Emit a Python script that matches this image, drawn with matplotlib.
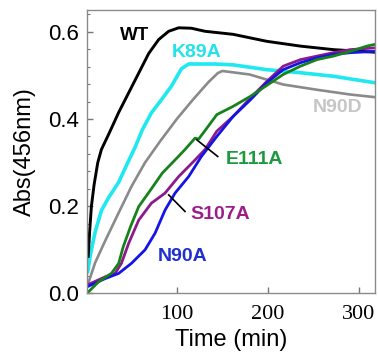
import matplotlib
matplotlib.use('Agg')
import matplotlib.pyplot as plt

# time (min) / absorbance at 456 nm
wt_t = [2.5, 4, 6, 9, 13, 17, 25, 36, 47, 58, 69, 80, 91, 102, 116, 131, 162, 199, 236, 272, 318]
wt_a = [0.085, 0.14, 0.2, 0.25, 0.3, 0.33, 0.365, 0.415, 0.46, 0.505, 0.55, 0.582, 0.601, 0.609,
        0.608, 0.601, 0.594, 0.578, 0.567, 0.559, 0.553]

k89a_t = [2, 5, 10, 17, 25, 36, 46, 54, 62, 72, 83, 94, 105, 113, 142, 162, 199, 236, 272, 318]
k89a_a = [0.05, 0.09, 0.14, 0.19, 0.22, 0.255, 0.30, 0.335, 0.375, 0.414, 0.444, 0.475, 0.515,
          0.526, 0.526, 0.524, 0.513, 0.506, 0.498, 0.483]

n90d_t = [2, 10, 21, 36, 50, 65, 82, 100, 118, 135, 145, 150, 180, 217, 254, 291, 318]
n90d_a = [0.02, 0.07, 0.12, 0.185, 0.245, 0.30, 0.35, 0.40, 0.445, 0.485, 0.505, 0.51, 0.502,
          0.479, 0.467, 0.456, 0.45]

e111a_t = [1, 14, 28, 36, 41, 49, 58, 71, 84, 98, 109, 120, 124, 133, 144, 162, 181, 199, 217,
           236, 254, 272, 291, 309, 318]
e111a_a = [0.0, 0.027, 0.046, 0.069, 0.107, 0.153, 0.199, 0.237, 0.276, 0.306, 0.33, 0.356, 0.354,
           0.379, 0.41, 0.429, 0.452, 0.477, 0.502, 0.521, 0.536, 0.544, 0.555, 0.567, 0.571]

s107a_t = [1, 21, 32, 39, 47, 58, 72, 87, 102, 120, 131, 144, 162, 181, 199, 217, 236, 254, 272,
           291, 318]
s107a_a = [0.019, 0.038, 0.046, 0.069, 0.115, 0.168, 0.207, 0.23, 0.268, 0.306, 0.33, 0.372, 0.406,
           0.448, 0.486, 0.521, 0.536, 0.544, 0.552, 0.559, 0.563]

n90a_t = [1, 21, 36, 50, 65, 76, 87, 98, 113, 127, 144, 162, 181, 199, 217, 236, 254, 272, 291, 318]
n90a_a = [0.015, 0.034, 0.046, 0.069, 0.1, 0.138, 0.191, 0.23, 0.268, 0.314, 0.36, 0.406, 0.444,
          0.483, 0.513, 0.529, 0.54, 0.548, 0.552, 0.555]

sans = 'Liberation Sans'
serif = 'Liberation Serif'

fig = plt.figure(figsize=(3.78, 3.54), dpi=100)
ax = fig.add_axes([0.231, 0.171, 0.761, 0.801])

ax.plot(n90d_t, n90d_a, color='#8a8a8a', lw=1.9)
ax.plot(k89a_t, k89a_a, color='#1fe8f0', lw=2.6)
ax.plot(wt_t, wt_a, color='black', lw=2.1)
ax.plot(s107a_t, s107a_a, color='#8b1a8b', lw=2.0)
ax.plot(n90a_t, n90a_a, color='#1414e6', lw=2.0)
ax.plot(e111a_t, e111a_a, color='#17821a', lw=2.0)

# curve labels
ax.text(53, 0.591, 'WT', color='black', fontsize=13.5, fontweight='bold', family=sans,
        ha='center', va='center')
ax.text(122, 0.553, 'K89A', color='#22e3ea', fontsize=14, fontweight='bold', family=sans,
        ha='center', va='center')
ax.text(277, 0.427, 'N90D', color='#c6c6c6', fontsize=14, fontweight='bold', family=sans,
        ha='center', va='center')
ax.text(185, 0.308, 'E111A', color='#1e9a3e', fontsize=14, fontweight='bold', family=sans,
        ha='center', va='center')
ax.text(148, 0.180, 'S107A', color='#9a1f8c', fontsize=14, fontweight='bold', family=sans,
        ha='center', va='center')
ax.text(106, 0.085, 'N90A', color='#1f2fd0', fontsize=14, fontweight='bold', family=sans,
        ha='center', va='center')
ax.plot([122, 145], [0.352, 0.314], color='black', lw=1.2)
ax.plot([91, 109], [0.226, 0.188], color='black', lw=1.2)

ax.set_xlim(1.5, 318)
ax.set_ylim(0, 0.65)
ax.set_xticks([100, 200, 300])
ax.set_yticks([0.0, 0.2, 0.4, 0.6])
ax.set_yticks([0.04 * i for i in range(17)], minor=True)
ax.set_yticklabels(['0.0', '0.2', '0.4', '0.6'], family=sans, fontsize=16)
ax.set_xticklabels(['100', '200', '300'], family=serif, fontsize=16)
ax.tick_params(direction='in', length=4, width=1, color='#777777', pad=6)
ax.tick_params(axis='y', which='minor', direction='in', length=2.5, width=0.8, color='#777777')
ax.tick_params(axis='x', pad=8)
for s in ax.spines.values():
    s.set_color('#8a8a8a')
    s.set_linewidth(1.0)

ax.set_xlabel('Time (min)', family=sans, fontsize=17, labelpad=4)
ax.set_ylabel('Abs(456nm)', family=sans, fontsize=17, labelpad=9)

fig.savefig('out.png', dpi=100)
